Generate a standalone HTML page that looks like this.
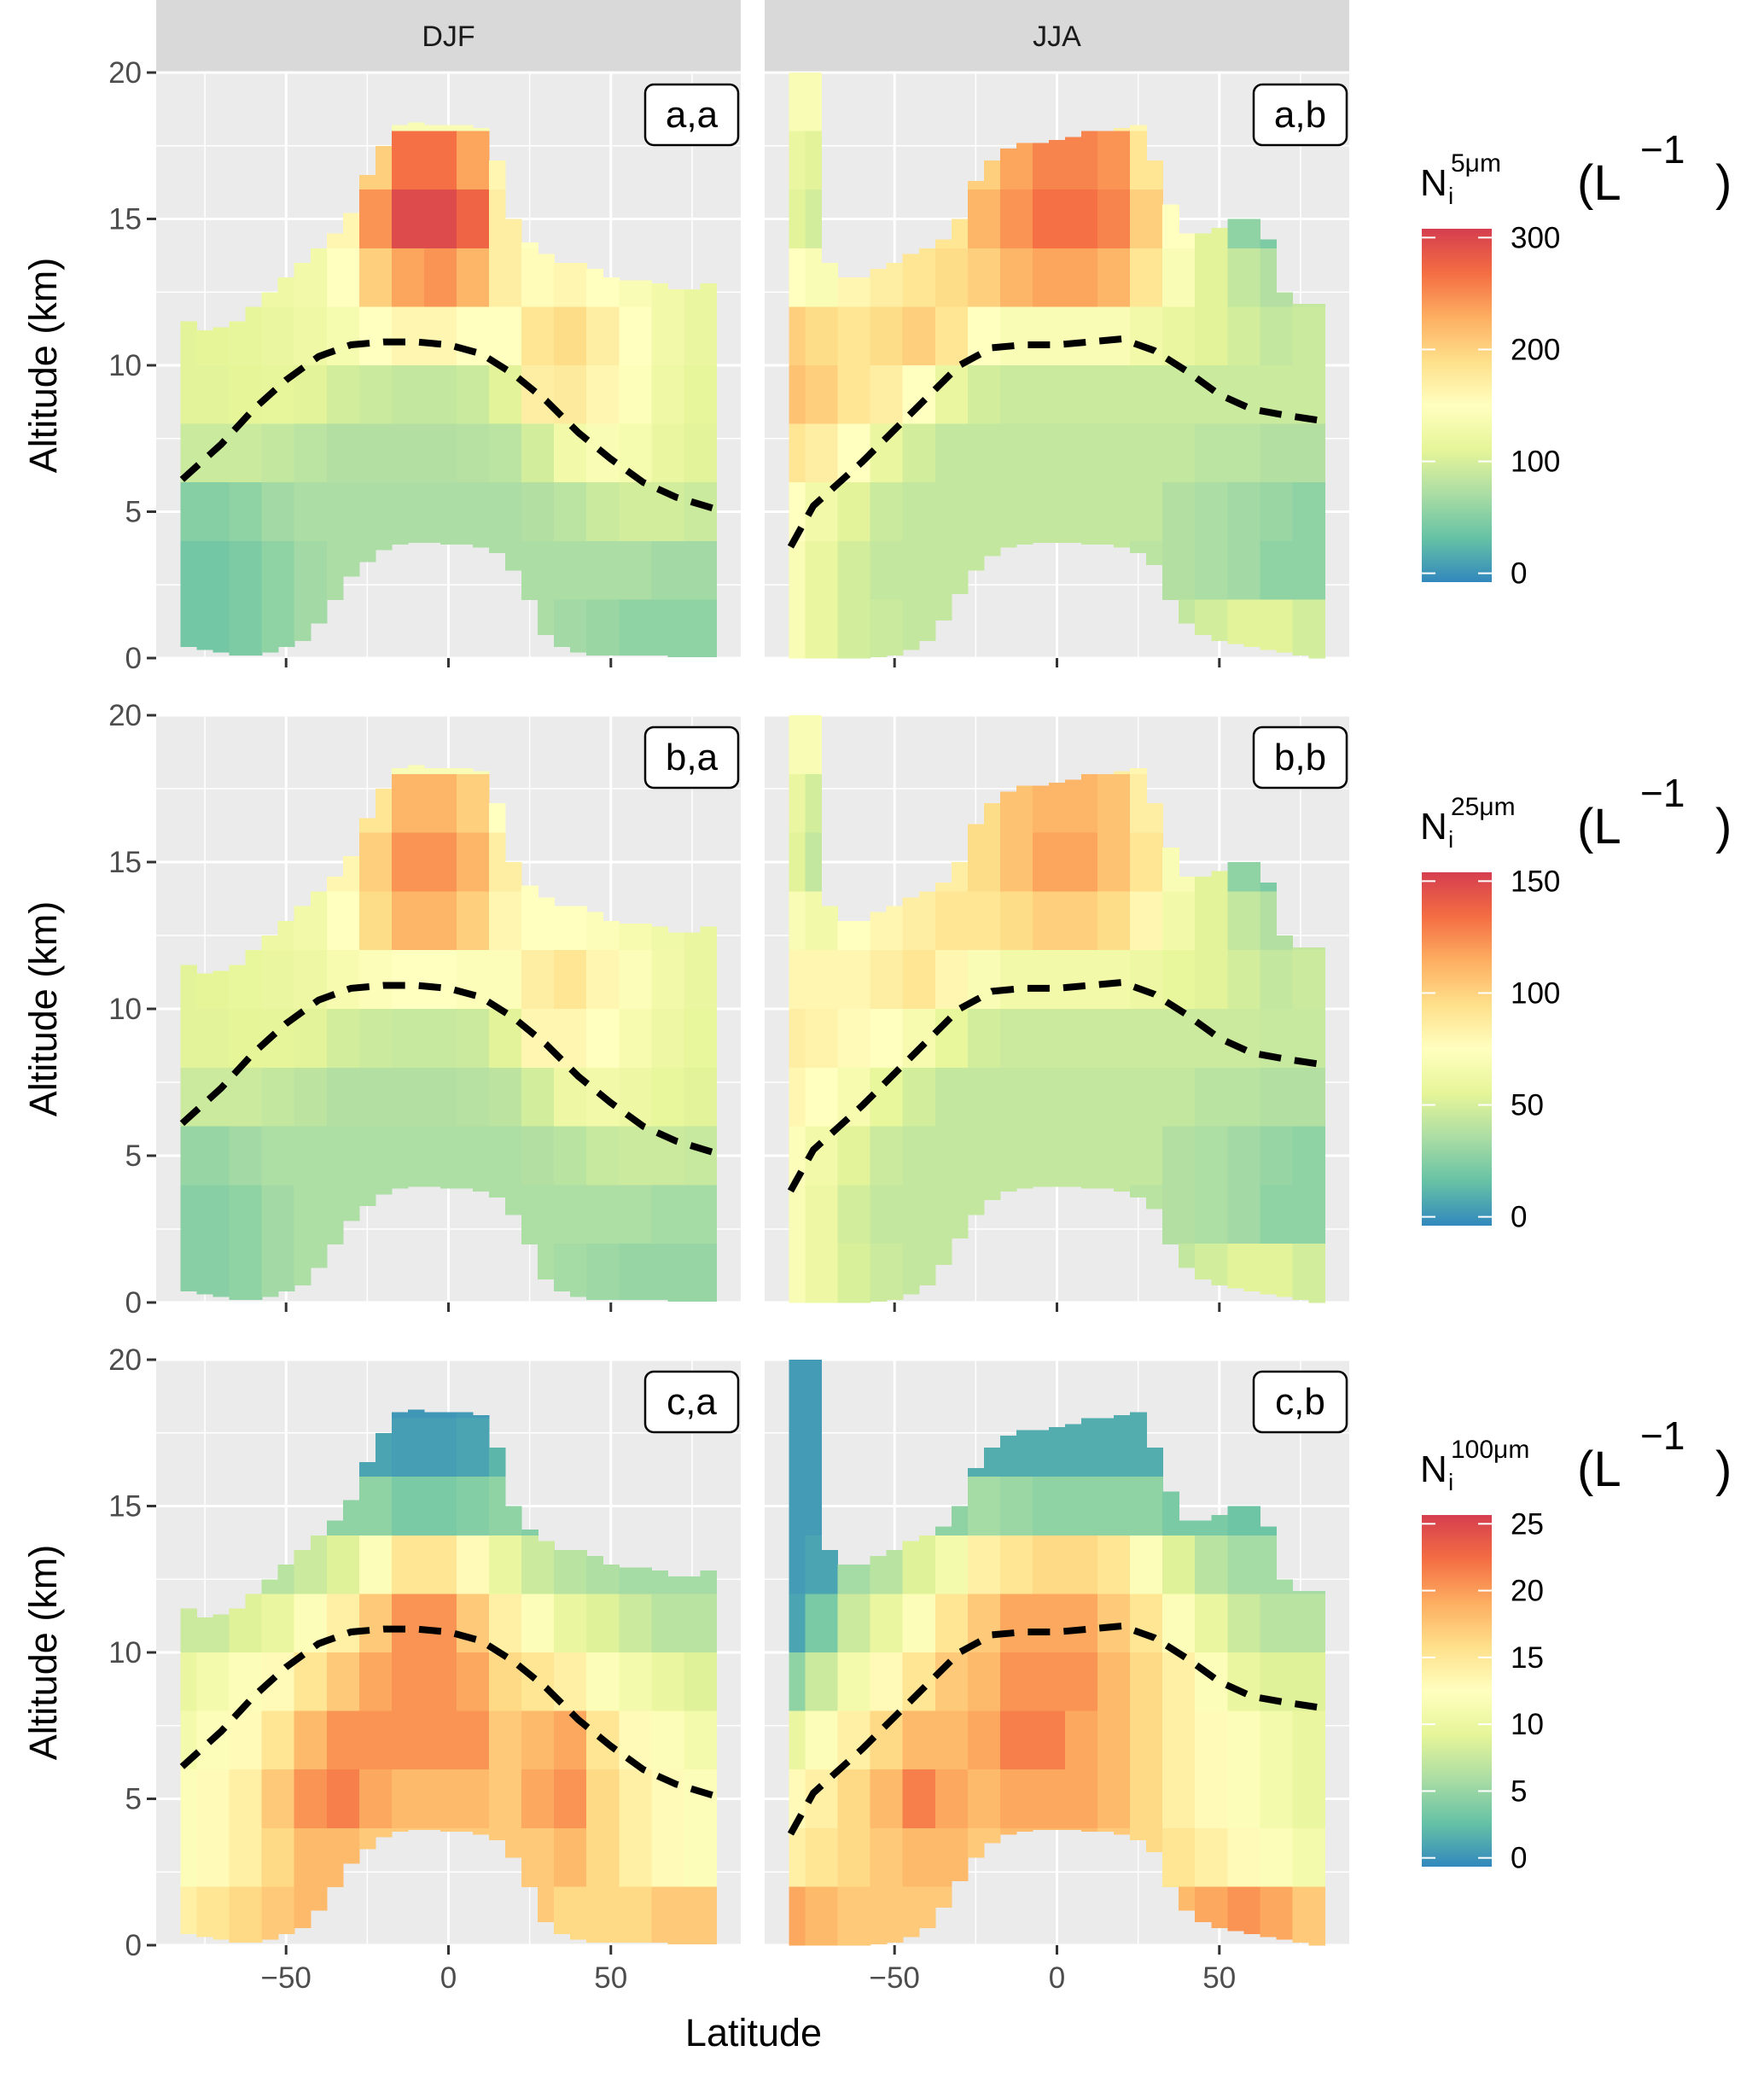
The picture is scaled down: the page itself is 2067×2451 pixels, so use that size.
<!DOCTYPE html>
<html><head><meta charset="utf-8"><style>
html,body{margin:0;padding:0;background:#fff}
svg{display:block}
text{font-family:"Liberation Sans",sans-serif}
</style></head><body>
<svg id="chart" width="2067" height="2451" viewBox="0 0 2067 2451" xmlns="http://www.w3.org/2000/svg"></svg>
<script>
// ---- data ----
const latCenters=[-80,-70,-60,-50,-40,-30,-20,-10,0,10,20,30,40,50,60,70,80];
const boundLat=[-80,-75,-70,-65,-60,-55,-50,-45,-40,-35,-30,-25,-20,-15,-10,-5,0,5,10,15,20,25,30,35,40,45,50,55,60,65,70,75,80];
const djfTop=[11.5,11.2,11.3,11.5,12,12.5,13,13.5,14,14.5,15.2,16.5,17.5,18.2,18.3,18.2,18.2,18.2,18.1,17,15,14.2,13.8,13.5,13.5,13.3,13,12.9,12.9,12.8,12.6,12.6,12.8];
const djfBottom=[0.4,0.3,0.2,0.1,0.1,0.2,0.4,0.6,1.2,2.0,2.8,3.3,3.7,3.9,3.95,3.95,3.9,3.9,3.8,3.6,3.0,2.0,0.8,0.4,0.2,0.1,0.1,0.1,0.1,0.1,0.05,0.05,0.05];
const jjaTop=[20,20,13.5,13,13,13.3,13.5,13.8,14,14.3,15,16.3,17,17.4,17.6,17.6,17.7,17.8,18,18,18.1,18.2,17,15.5,14.5,14.5,14.7,15,15,14.3,12.5,12.1,12.1];
const jjaBottom=[0,0,0,0,0,0.05,0.1,0.3,0.6,1.3,2.2,3.0,3.5,3.8,3.9,3.95,3.95,3.95,3.9,3.9,3.8,3.6,3.2,2.0,1.2,0.8,0.6,0.5,0.4,0.3,0.2,0.1,0];
const djfTropLat=[-82,-70,-60,-50,-40,-30,-20,-10,0,10,20,30,40,50,60,70,82];
const djfTropAlt=[6.1,7.3,8.5,9.5,10.3,10.7,10.8,10.8,10.7,10.4,9.7,8.8,7.7,6.8,6.0,5.5,5.1];
const jjaTropLat=[-82,-75,-60,-50,-40,-30,-20,-10,0,10,20,30,40,50,60,70,82];
const jjaTropAlt=[3.8,5.2,6.7,7.8,8.9,10.0,10.6,10.7,10.7,10.8,10.9,10.5,9.8,9.0,8.5,8.3,8.1];
// rows: altitude bands 18-20,16-18,...,0-2
const gridAA=[
[140,140,140,140,140,140,140,140,140,140,140,140,140,140,140,140,140],
[120,120,120,120,120,120,200,260,260,230,160,130,130,130,130,130,130],
[120,120,125,130,135,160,240,290,290,270,170,150,140,135,130,125,120],
[115,118,120,125,130,150,200,230,240,220,170,155,160,150,140,130,120],
[110,112,115,120,125,135,150,160,160,150,150,180,190,170,150,130,120],
[110,110,112,115,110,100,95,90,90,95,110,170,175,160,145,125,115],
[95,95,95,90,85,80,80,80,80,82,85,100,130,140,135,120,110],
[55,55,60,70,75,75,75,75,75,75,75,80,85,95,100,100,95],
[45,45,50,60,70,75,75,75,75,75,75,75,75,75,75,70,70],
[45,45,50,60,70,75,75,75,75,75,75,75,70,65,60,60,60]];
const gridAB=[
[140,140,130,130,130,130,150,160,170,170,170,160,140,120,110,100,100],
[120,110,130,140,150,160,200,230,250,250,240,180,140,110,100,90,90],
[110,100,140,150,160,180,220,240,260,260,250,200,150,110,60,50,80],
[150,140,160,170,180,190,200,220,230,230,220,180,140,110,90,80,90],
[200,190,180,190,200,180,150,140,140,140,140,130,120,110,100,90,95],
[210,200,180,170,150,120,100,95,95,95,95,95,95,95,95,95,95],
[180,170,150,120,100,90,90,90,90,90,90,90,90,85,85,80,80],
[150,130,110,95,90,90,90,90,90,90,90,90,80,75,70,65,60],
[140,120,100,90,90,90,90,90,90,90,90,85,80,75,70,60,60],
[140,120,100,95,90,90,90,90,90,90,90,90,90,100,110,110,100]];
const gridBA=[
[70,70,70,70,70,70,70,70,70,70,70,70,70,70,70,70,70],
[60,60,60,60,60,60,90,110,110,100,75,65,65,65,65,65,65],
[60,60,62,65,70,80,100,120,120,110,85,75,70,68,65,62,60],
[58,58,60,62,65,75,95,110,110,100,80,75,75,72,68,64,60],
[55,56,58,60,62,68,72,75,75,72,72,85,90,80,72,65,60],
[55,55,56,57,55,50,48,46,46,48,55,80,80,75,68,62,58],
[48,48,48,45,43,40,40,40,40,41,43,50,62,65,62,58,55],
[32,32,35,38,38,38,38,38,38,38,38,40,42,46,48,48,46],
[28,28,30,35,38,38,38,38,38,38,38,38,38,38,38,36,36],
[28,28,30,35,38,38,38,38,38,38,38,38,36,34,32,32,32]];
const gridBB=[
[70,70,65,65,65,65,75,80,85,85,85,80,70,60,55,50,50],
[60,50,65,70,75,80,95,105,110,110,105,85,70,55,50,45,45],
[55,45,70,75,80,85,95,105,115,115,105,90,70,55,30,25,40],
[70,65,75,80,85,90,90,95,100,100,95,80,65,55,45,40,45],
[80,80,80,85,90,80,70,65,65,65,65,62,58,55,50,45,48],
[85,82,78,75,68,58,50,48,48,48,48,48,48,48,48,46,46],
[80,75,68,58,50,45,45,45,45,45,45,45,45,42,42,40,40],
[72,65,55,48,45,45,45,45,45,45,45,45,40,38,35,32,30],
[70,62,50,45,45,45,45,45,45,45,45,42,40,38,35,30,30],
[70,62,52,48,45,45,45,45,45,45,45,45,45,50,55,55,50]];
const gridCA=[
[1,1,1,1,1,1,1,0.8,0.8,1,1,1,1,1,1,1,1],
[2.5,2.5,2.5,2.5,2.5,2.5,1.5,1.2,1.2,1.5,2.5,2.5,2.5,2.5,2.5,2.5,2.5],
[4.5,4.5,4.5,4.5,4.5,5,5,4,4,4.5,5,4.5,4.5,4.5,4.5,4.5,4.5],
[6,6,6.5,7,8,9,12,15,15,13,10,8,7,6.5,6,6,6],
[8,8,9,10,12,14,17,20,20,17,14,12,10,9,8,7,7],
[10,11,12,13,15,17,19,20,20,19,16,15,14,12,11,10,9],
[11,12,13,15,18,20,20,20,20,20,17,18,19,15,13,12,11],
[12,13,14,17,20,21,19,18,18,18,17,19,20,16,14,13,12],
[12,13,14,16,18,18,17,17,17,17,17,17,18,16,14,13,12],
[14,15,16,17,18,18,17,17,17,17,17,17,16,16,16,17,17]];
const gridCB=[
[1,1,2,2,2,2,2,2,2,2,2,2,2,2,2,2,2],
[1,1,2,2,2,2,2,2,2,2,2,2,2,2,2,2,2],
[1,1,3,3,4,5,6,5.5,5,5,5,5,4,4,3.5,3.5,3.5],
[1,1.5,6,7,9,11,14,15,16,16,15,12,9,7,6,6,6],
[1.5,4,8,10,12,15,17,19,19,19,17,15,12,10,8,7,7],
[5,8,11,13,15,17,18,20,20,20,18,16,14,12,10,9,9],
[10,12,14,16,18,18,19,21,21,19,18,16,14,13,12,11,10],
[13,14,16,18,21,19,18,19,19,19,18,16,14,13,12,11,10],
[14,15,16,17,18,18,17,18,18,18,17,16,15,14,13,12,11],
[19,18,17,17,17,17,17,17,17,17,17,17,18,19,20,19,17]];
const xTicks=[-50,0,50];
const yTicks=[0,5,10,15,20];
const legend1Ticks=[0,100,200,300];
const legend2Ticks=[0,50,100,150];
const legend3Ticks=[0,5,10,15,20,25];
const seasons=["DJF","JJA"];

// ---- layout ----
const svg=document.getElementById('chart');
const NS='http://www.w3.org/2000/svg';
function mk(tag,attrs,parent){const e=document.createElementNS(NS,tag);for(const k in attrs)e.setAttribute(k,attrs[k]);(parent||svg).appendChild(e);return e;}
const colX=[183,896], PW=685;
const rowY=[[85,771],[838,1526],[1593,2279]];
const pal=['#3288BD','#66C2A5','#ABDDA4','#E6F598','#FFFFBF','#FEE08B','#FDAE61','#F46D43','#D53E4F'];
function hex(h){return [parseInt(h.slice(1,3),16),parseInt(h.slice(3,5),16),parseInt(h.slice(5,7),16)];}
function col(t){t=Math.max(0,Math.min(1,t));const p=t*(pal.length-1);const i=Math.min(pal.length-2,Math.floor(p));const f=p-i;const a=hex(pal[i]),b=hex(pal[i+1]);return 'rgb('+a.map((v,k)=>Math.round(v+(b[k]-v)*f)).join(',')+')';}

const panels=[
{r:0,c:0,grid:gridAA,max:300,label:'a,a'},{r:0,c:1,grid:gridAB,max:300,label:'a,b'},
{r:1,c:0,grid:gridBA,max:150,label:'b,a'},{r:1,c:1,grid:gridBB,max:150,label:'b,b'},
{r:2,c:0,grid:gridCA,max:25,label:'c,a'},{r:2,c:1,grid:gridCB,max:25,label:'c,b'}];

// strips
seasons.forEach((s,c)=>{
  const g=mk('g',{});
  
  
  mk('rect',{x:colX[c],y:0,width:PW,height:85,fill:'#D9D9D9'},g);
  const t=mk('text',{x:colX[c]+PW/2,y:54,'font-size':34,'text-anchor':'middle',fill:'#1A1A1A'},g);t.textContent=s;
});

panels.forEach(p=>{
  const x0=colX[p.c], y0=rowY[p.r][0], y1=rowY[p.r][1];
  const sx=v=>x0+(v+90)/180*PW;
  const sy=v=>y1-(v/20)*(y1-y0);
  const g=mk('g',{});
  
  
  mk('rect',{x:x0,y:y0,width:PW,height:y1-y0,fill:'#EBEBEB'},g);
  [-75,-25,25,75].forEach(v=>mk('line',{x1:sx(v),x2:sx(v),y1:y0,y2:y1,stroke:'#fff','stroke-width':1.5},g));
  [2.5,7.5,12.5,17.5].forEach(v=>mk('line',{x1:x0,x2:x0+PW,y1:sy(v),y2:sy(v),stroke:'#fff','stroke-width':1.5},g));
  xTicks.forEach(v=>mk('line',{x1:sx(v),x2:sx(v),y1:y0,y2:y1,stroke:'#fff','stroke-width':3},g));
  yTicks.forEach(v=>mk('line',{x1:x0,x2:x0+PW,y1:sy(v),y2:sy(v),stroke:'#fff','stroke-width':3},g));
  const top=p.c===0?djfTop:jjaTop, bot=p.c===0?djfBottom:jjaBottom;
  const hm=mk('g',{'shape-rendering':'crispEdges'},g);
  
  
  boundLat.forEach((lc,i)=>{
    const vi=Math.min(latCenters.length-1,Math.round((lc-latCenters[0])/10));
    p.grid.forEach((row,k)=>{
      const a0=Math.max(bot[i],18-2*k), a1=Math.min(top[i],20-2*k);
      if(a1<=a0)return;
      const xl=sx(lc-2.5), xr=sx(lc+2.5);
      const r=mk('rect',{x:xl,y:sy(a1),width:xr-xl+0.6,height:sy(a0)-sy(a1)+0.6,fill:col(row[vi]/p.max)},hm);
      
      
    });
  });
  const tl=p.c===0?djfTropLat:jjaTropLat, ta=p.c===0?djfTropAlt:jjaTropAlt;
  const path=mk('path',{d:tl.map((v,i)=>(i?'L':'M')+sx(v).toFixed(1)+','+sy(ta[i]).toFixed(1)).join(''),fill:'none',stroke:'#000','stroke-width':8,'stroke-dasharray':'26 16'},g);
  
  
  // label box
  const lb=mk('g',{},g);
  
  
  mk('rect',{x:x0+PW-112,y:y0+14,width:109,height:71,rx:10,fill:'#fff',stroke:'#000','stroke-width':2.5},lb);
  const lt=mk('text',{x:x0+PW-57.5,y:y0+64,'font-size':44,'text-anchor':'middle',fill:'#000'},lb);lt.textContent=p.label;
  // axes
  if(p.c===0){
    yTicks.forEach(v=>{
      mk('line',{x1:x0-11,x2:x0,y1:sy(v),y2:sy(v),stroke:'#333','stroke-width':3});
      const t=mk('text',{x:x0-17,y:sy(v)+12,'font-size':35,'text-anchor':'end',fill:'#4D4D4D'});
      
      
      t.textContent=v;
    });
    const yt=mk('text',{x:0,y:0,'font-size':45,'text-anchor':'middle',fill:'#000',transform:'translate(66,'+((y0+y1)/2)+') rotate(-90)'});
    
    
    yt.textContent='Altitude (km)';
  }
  xTicks.forEach(v=>{
    mk('line',{x1:sx(v),x2:sx(v),y1:y1,y2:y1+11,stroke:'#333','stroke-width':3});
    if(p.r===2){
      const t=mk('text',{x:sx(v),y:y1+50,'font-size':35,'text-anchor':'middle',fill:'#4D4D4D'});
      
      
      t.textContent=v===-50?'\u221250':v;
    }
  });
});
const xt=mk('text',{x:883,y:2397,'font-size':45,'text-anchor':'middle',fill:'#000'});


xt.textContent='Latitude';

// legends
const legends=[
{sup:'5\u03bcm',top:268,bot:682,ticks:legend1Ticks,max:300,base:229},
{sup:'25\u03bcm',top:1022,bot:1436,ticks:legend2Ticks,max:150,base:983},
{sup:'100\u03bcm',top:1775,bot:2187,ticks:legend3Ticks,max:25,base:1736}];
legends.forEach((L,li)=>{
  const g=mk('g',{});
  
  
  const id='grad'+li;
  const d=mk('defs',{},g);const lg=mk('linearGradient',{id:id,x1:0,y1:1,x2:0,y2:0},d);
  pal.forEach((c,i)=>mk('stop',{offset:i/(pal.length-1),'stop-color':c},lg));
  const inset=(L.bot-L.top)*0.025;
  const ty=v=>L.bot-inset-(v/L.max)*(L.bot-L.top-2*inset);
  mk('rect',{x:1666,y:L.top,width:82,height:L.bot-L.top,fill:'url(#'+id+')'},g);
  L.ticks.forEach(v=>{
    mk('line',{x1:1666,x2:1682,y1:ty(v),y2:ty(v),stroke:'#fff','stroke-width':2},g);
    mk('line',{x1:1732,x2:1748,y1:ty(v),y2:ty(v),stroke:'#fff','stroke-width':2},g);
    const t=mk('text',{x:1770,y:ty(v)+12,'font-size':35,fill:'#000'},g);t.textContent=v;
  });
  const tN=mk('text',{x:1664,y:L.base,'font-size':44,fill:'#000'},g);tN.textContent='N';
  const ti=mk('text',{x:1697,y:L.base+10,'font-size':28,fill:'#000'},g);ti.textContent='i';
  const ts=mk('text',{x:1700,y:L.base-28,'font-size':30,fill:'#000'},g);ts.textContent=L.sup;
  const tl=mk('text',{x:1848,y:L.base+5,'font-size':58,fill:'#000'},g);tl.textContent='(L';
  const te=mk('text',{x:1922,y:L.base-38,'font-size':46,fill:'#000'},g);te.textContent='\u22121';
  const tr=mk('text',{x:2010,y:L.base+5,'font-size':58,fill:'#000'},g);tr.textContent=')';
});
</script>
</body></html>
